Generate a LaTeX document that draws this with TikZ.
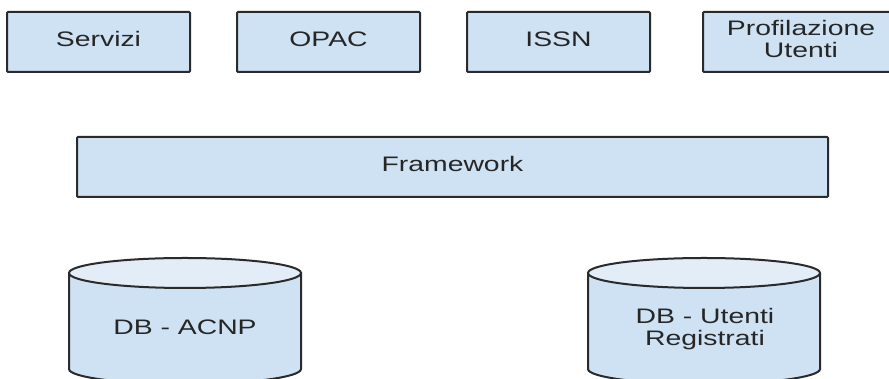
\documentclass[tikz,border=0pt]{standalone}
\usepackage{fontspec}
\setmainfont{Liberation Sans}
\definecolor{boxfill}{HTML}{CFE2F3}
\definecolor{capfill}{HTML}{E2EDF8}
\definecolor{edge}{HTML}{2A2A2A}
\definecolor{ink}{HTML}{262626}
% text is set wide, as in the original drawing
\newcommand{\widetext}[1]{\scalebox{1.35}[1]{\begin{tabular}{@{}c@{}}#1\end{tabular}}}
\tikzset{
  layerbox/.style={draw=edge, line width=2pt, fill=boxfill, rounded corners=1pt,
    minimum height=60pt, inner sep=0pt, text=ink,
    font=\fontsize{21}{20}\selectfont},
  dbtext/.style={text=ink, inner sep=0pt, font=\fontsize{21}{20}\selectfont},
  dbbody/.style={draw=edge, line width=2pt, fill=boxfill},
  dbcap/.style={draw=edge, line width=2pt, fill=capfill},
}
\begin{document}
\begin{tikzpicture}[x=1pt, y=1pt]
  \useasboundingbox (0,0) rectangle (889,379);
  \clip (0,0) rectangle (889,379);

  % top row of modules
  \node[layerbox, minimum width=183pt] (servizi) at (98.5,337) {\widetext{Servizi}};
  \node[layerbox, minimum width=183pt] (opac)    at (328.5,337) {\widetext{OPAC}};
  \node[layerbox, minimum width=183pt] (issn)    at (558.5,337) {\widetext{ISSN}};
  \node[layerbox, minimum width=196pt] (profil)  at (801,337) {\widetext{Profilazione\\Utenti}};

  % framework layer
  \node[layerbox, minimum width=751pt] (framework) at (452.5,212) {\widetext{Framework}};

  % database ACNP
  \path[dbbody] (69,106) -- (69,10) arc[start angle=180, end angle=360, x radius=116, y radius=15] -- (301,106);
  \draw[dbcap] (185,106) ellipse[x radius=116, y radius=15];
  \node[dbtext] (acnp) at (185,49) {\widetext{DB - ACNP}};

  % database of registered users
  \path[dbbody] (588,106) -- (588,10) arc[start angle=180, end angle=360, x radius=116, y radius=15] -- (820,106);
  \draw[dbcap] (704,106) ellipse[x radius=116, y radius=15];
  \node[dbtext] (utenti) at (705,49) {\widetext{DB - Utenti\\Registrati}};
\end{tikzpicture}
\end{document}
